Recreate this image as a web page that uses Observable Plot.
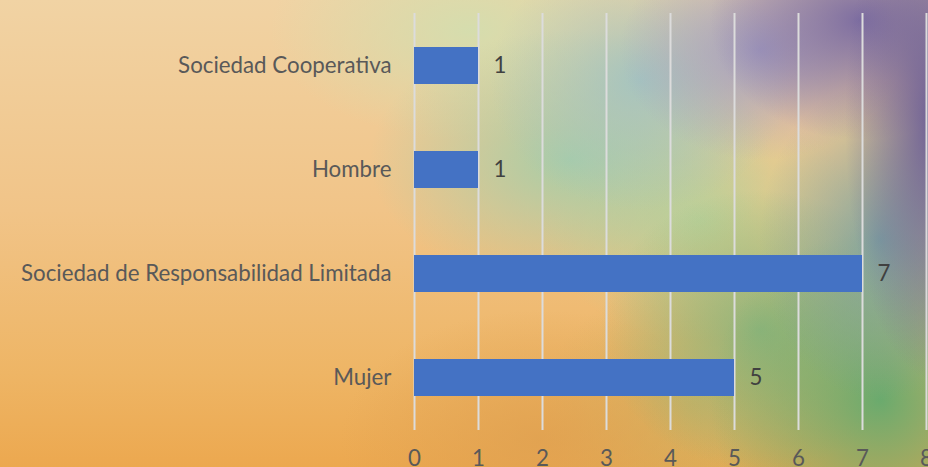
<!DOCTYPE html>
<html>
<head>
<meta charset="utf-8">
<script src="https://cdn.jsdelivr.net/npm/d3@7"></script>
<script src="https://cdn.jsdelivr.net/npm/@observablehq/plot@0.6"></script>
<style>
  html, body { margin: 0; padding: 0; }
  body { width: 928px; height: 467px; overflow: hidden; }
  #chart {
    width: 928px; height: 467px; position: relative;
    background:
      radial-gradient(ellipse 90px 260px at 935px 120px, rgba(100,88,150,0.95), rgba(100,88,150,0) 100%),
      radial-gradient(ellipse 150px 120px at 860px 20px, rgba(115,100,160,0.9), rgba(115,100,160,0) 100%),
      radial-gradient(ellipse 140px 110px at 760px 50px, rgba(155,150,195,0.85), rgba(155,150,195,0) 100%),
      radial-gradient(ellipse 120px 160px at 880px 240px, rgba(110,160,165,0.85), rgba(110,160,165,0) 100%),
      radial-gradient(ellipse 150px 130px at 640px 80px, rgba(160,195,195,0.9), rgba(160,195,195,0) 100%),
      radial-gradient(ellipse 170px 170px at 880px 400px, rgba(100,170,110,0.95), rgba(100,170,110,0) 100%),
      radial-gradient(ellipse 160px 140px at 760px 330px, rgba(130,180,125,0.85), rgba(130,180,125,0) 100%),
      radial-gradient(ellipse 200px 130px at 570px 160px, rgba(160,205,170,0.9), rgba(160,205,170,0) 100%),
      radial-gradient(ellipse 160px 120px at 700px 220px, rgba(185,210,150,0.85), rgba(185,210,150,0) 100%),
      radial-gradient(ellipse 200px 110px at 470px 30px, rgba(210,222,175,0.9), rgba(210,222,175,0) 100%),
      radial-gradient(ellipse 200px 130px at 540px 440px, rgba(222,160,80,0.75), rgba(222,160,80,0) 100%),
      radial-gradient(ellipse 150px 130px at 690px 410px, rgba(200,180,100,0.7), rgba(200,180,100,0) 100%),
      linear-gradient(180deg, #f1d3a4 0%, #f1c488 45%, #eeb565 80%, #eca84f 100%);
  }
  #chart svg { position: absolute; left: 0; top: 0; background: transparent; }
</style>
</head>
<body>
<div id="chart"></div>
<script>
const categories = ["Sociedad Cooperativa", "Hombre", "Sociedad de Responsabilidad Limitada", "Mujer"];
const values = [1, 1, 7, 5];
const xTicks = [0, 1, 2, 3, 4, 5, 6, 7, 8];

const data = categories.map((c, i) => ({category: c, value: values[i]}));

const chart = Plot.plot({
  width: 928,
  height: 467,
  marginLeft: 414,
  marginRight: 2,
  marginTop: 13,
  marginBottom: 37,
  style: {background: "transparent", fontFamily: "Lato, 'Open Sans', sans-serif", fontSize: "22.3px", color: "#595959", overflow: "visible"},
  x: {domain: [0, 8], ticks: xTicks, tickSize: 0, tickPadding: 20, label: null, grid: false},
  y: {domain: categories, paddingInner: 0.645, paddingOuter: 0.3225, tickSize: 0, tickPadding: 23, label: null},
  marks: [
    Plot.ruleX(xTicks, {stroke: "#dcdcdc", strokeWidth: 2, strokeOpacity: 1}),
    Plot.barX(data, {y: "category", x: "value", fill: "#4472c4"}),
    Plot.text(data, {y: "category", x: "value", text: d => String(d.value), textAnchor: "start", dx: 15, fill: "#404040", fontSize: 22.3})
  ]
});
document.getElementById("chart").appendChild(chart);
</script>
</body>
</html>
